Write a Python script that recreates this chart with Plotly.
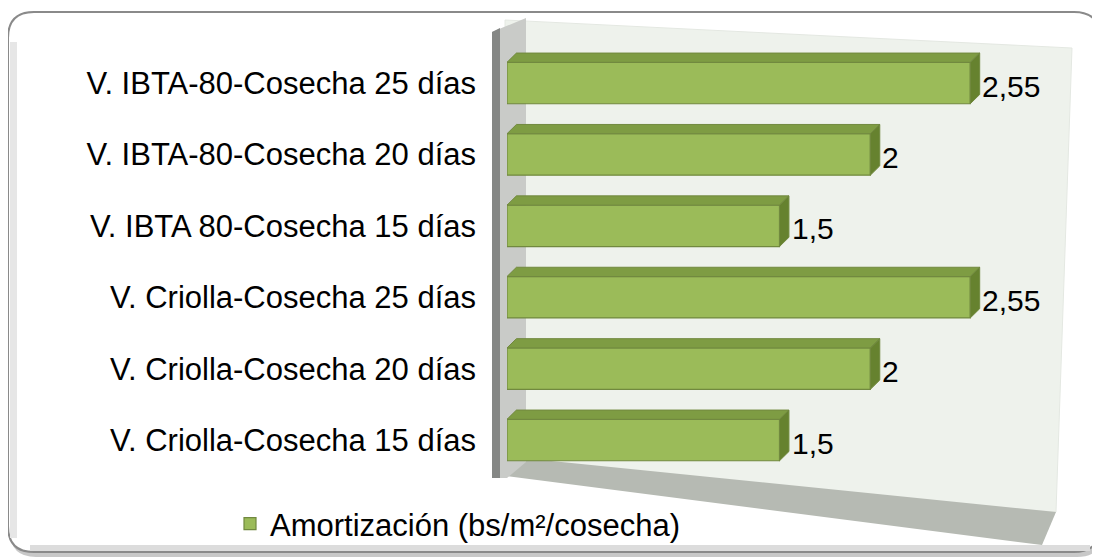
import plotly.graph_objects as go

# ---- data (bottom to top, as drawn) ----
categories = [
    "V. Criolla-Cosecha 15 días",
    "V. Criolla-Cosecha 20 días",
    "V. Criolla-Cosecha 25 días",
    "V. IBTA 80-Cosecha 15 días",
    "V. IBTA-80-Cosecha 20 días",
    "V. IBTA-80-Cosecha 25 días",
]
values = [1.5, 2, 2.55, 1.5, 2, 2.55]
series_name = "Amortización (bs/m²/cosecha)"

W, H = 1100, 558
OX, OY = 8, 8  # page body margin offset
FONT = "Liberation Sans, Arial, sans-serif"
FRONT = "#9BBB59"
TOP = "#7E9C43"
SIDE = "#66822F"
EDGE = "#71893F"


def px(x):
    return (x - OX) / W


def py(y):
    return 1 - (y - OY) / H


def label(v):
    return f"{v:g}".replace(".", ",")


ypos = list(range(len(categories)))
fig = go.Figure()
fig.add_trace(go.Bar(
    x=values, y=ypos, orientation="h", name=series_name,
    width=0.58,
    marker=dict(color=FRONT, line=dict(color=EDGE, width=1.2)),
    showlegend=True,
))

shapes = []


def rounded(x0, y0, x1, y1, r):
    rx, ry = r / W, r / H
    X0, X1 = px(x0), px(x1)
    Y0, Y1 = py(y0), py(y1)
    return (f"M {X0+rx},{Y0} L {X1-rx},{Y0} Q {X1},{Y0} {X1},{Y0-ry} "
            f"L {X1},{Y1+ry} Q {X1},{Y1} {X1-rx},{Y1} L {X0+rx},{Y1} "
            f"Q {X0},{Y1} {X0},{Y1+ry} L {X0},{Y0-ry} Q {X0},{Y0} {X0+rx},{Y0} Z")


# outer frame with soft shadow
shapes.append(dict(type="path", xref="paper", yref="paper", layer="below",
                   path=rounded(10, 14, 1103, 557, 26),
                   fillcolor="#C8C8C8", line=dict(width=0)))
shapes.append(dict(type="path", xref="paper", yref="paper", layer="below",
                   path=rounded(8, 12, 1100, 552, 26),
                   fillcolor="white", line=dict(color="#8A8A8A", width=2)))
shapes.append(dict(type="rect", xref="paper", yref="paper", layer="below",
                   x0=px(10), x1=px(17), y0=py(538), y1=py(42),
                   fillcolor="#E6E6E6", line=dict(width=0)))
shapes.append(dict(type="rect", xref="paper", yref="paper", layer="below",
                   x0=px(30), x1=px(1090), y0=py(551), y1=py(545),
                   fillcolor="#DCDCDC", line=dict(width=0)))

# back wall
shapes.append(dict(type="path", xref="paper", yref="paper", layer="below",
                   path=(f"M {px(505)},{py(20)} L {px(1072)},{py(48)} "
                         f"L {px(1056)},{py(512)} L {px(505)},{py(475)} Z"),
                   fillcolor="#EEF2EC", line=dict(color="#E4E8E2", width=1)))
# floor
shapes.append(dict(type="path", xref="paper", yref="paper", layer="below",
                   path=(f"M {px(507)},{py(476)} L {px(522)},{py(458)} "
                         f"L {px(1056)},{py(512)} L {px(1042)},{py(545)} Z"),
                   fillcolor="#B6BAB3", line=dict(width=0)))
# left wall
shapes.append(dict(type="path", xref="paper", yref="paper", layer="below",
                   path=(f"M {px(492)},{py(32)} L {px(526)},{py(18)} "
                         f"L {px(526)},{py(462)} L {px(507)},{py(478)} L {px(492)},{py(478)} Z"),
                   fillcolor="#C9CBC8", line=dict(width=0)))
shapes.append(dict(type="path", xref="paper", yref="paper", layer="below",
                   path=(f"M {px(492)},{py(32)} L {px(500)},{py(28)} "
                         f"L {px(500)},{py(478)} L {px(492)},{py(478)} Z"),
                   fillcolor="#858785", line=dict(width=0)))

# 3D top and side faces of the bars, computed from the values
hw, dx, dy = 0.29, 0.052, 0.13
for i, v in enumerate(values):
    top = f"M 0,{i+hw} L {v},{i+hw} L {v+dx},{i+hw+dy} L {dx},{i+hw+dy} Z"
    side = f"M {v},{i-hw} L {v},{i+hw} L {v+dx},{i+hw+dy} L {v+dx},{i-hw+dy} Z"
    shapes.append(dict(type="path", xref="x", yref="y", layer="above", path=top,
                       fillcolor=TOP, line=dict(color=EDGE, width=1)))
    shapes.append(dict(type="path", xref="x", yref="y", layer="above", path=side,
                       fillcolor=SIDE, line=dict(color=EDGE, width=1)))

annotations = []
for i, v in enumerate(values):
    annotations.append(dict(x=v, y=i, xref="x", yref="y", text=label(v),
                            showarrow=False, xanchor="left", yanchor="middle",
                            xshift=10, yshift=-3,
                            font=dict(family=FONT, size=30, color="black")))

fig.update_layout(
    width=W, height=H,
    margin=dict(l=0, r=0, t=0, b=0),
    paper_bgcolor="white",
    plot_bgcolor="rgba(0,0,0,0)",
    font=dict(family=FONT, size=31, color="black"),
    shapes=shapes,
    annotations=annotations,
    xaxis=dict(domain=[px(507), px(1052)], range=[0, 3.0], visible=False,
               showgrid=False, zeroline=False),
    yaxis=dict(domain=[py(493.6), py(29.5)], range=[-0.75, 5.75],
               tickmode="array", tickvals=ypos, ticktext=categories,
               showgrid=False, zeroline=False, showline=False,
               ticks="", ticklabelstandoff=30, automargin=False,
               tickfont=dict(family=FONT, size=31, color="black")),
    legend=dict(orientation="h", x=px(458), xanchor="center",
                y=py(524), yanchor="middle",
                font=dict(family=FONT, size=31, color="black"),
                bgcolor="rgba(0,0,0,0)", itemwidth=30),
)

fig.write_html("out.html")
